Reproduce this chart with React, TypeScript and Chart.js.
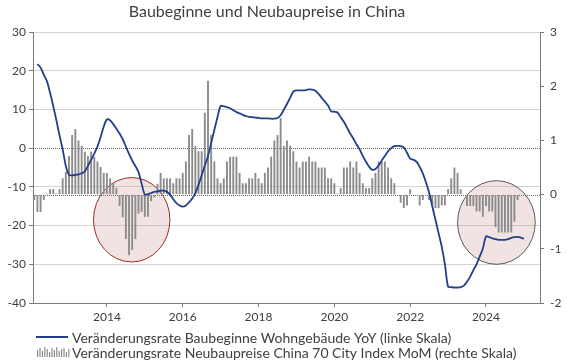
import React, { useEffect, useRef } from "react";
import { Chart, registerables } from "chart.js";

Chart.register(...registerables);

// ---------- data ----------
const START_YEAR = 2012; // month index 0 = Jan 2012
const TITLE = "Baubeginne und Neubaupreise in China";
const LINE_LABEL = "Veränderungsrate Baubeginne Wohngebäude YoY (linke Skala)";
const BAR_LABEL = "Veränderungsrate Neubaupreise China 70 City Index MoM (rechte Skala)";
const yearTicks = [2014, 2016, 2018, 2020, 2022, 2024];

// Housing starts YoY (%), monthly, first value = Mar 2012
const lineStartMonth = 2;
const lineValues = [
  21.7, 20.8, 19.0, 17.3, 14.3, 10.9, 7.2, 3.3, -0.4, -4.6, -6.9,
  -7.0, -6.9, -6.8, -6.5, -6.0, -4.6, -3.0, -1.4, 0.4, 2.8, 5.6, 7.4,
  7.2, 6.2, 5.0, 3.8, 2.3, 0.4, -1.5, -3.2, -4.6, -6.2, -9.2, -12.0,
  -11.9, -11.6, -11.3, -11.2, -11.0, -11.0, -11.3, -12.0, -13.2, -14.2, -14.8, -15.1,
  -14.8, -14.0, -13.0, -11.6, -9.5, -7.0, -4.5, -2.0, 1.3, 4.7, 8.0, 10.9,
  10.8, 10.6, 10.3, 9.8, 9.3, 9.0, 8.6, 8.3, 8.1, 8.0, 7.9, 7.8,
  7.7, 7.7, 7.7, 7.6, 7.6, 7.8, 8.5, 9.9, 11.4, 13.0, 14.6, 14.9,
  14.9, 14.9, 15.0, 15.2, 15.1, 14.8, 14.0, 13.0, 12.0, 11.0, 9.5, 9.4,
  9.2, 8.0, 6.8, 5.3, 3.8, 2.5, 1.0, -0.3, -2.0, -3.5, -4.8, -5.6,
  -5.4, -4.5, -3.2, -2.0, -0.8, 0.0, 0.5, 0.6, 0.5, 0.2, -1.2, -2.7,
  -3.0, -3.5, -4.8, -6.5, -8.8, -11.5, -15.0, -18.5, -22.0, -25.5, -30.0, -35.8,
  -35.9, -36.0, -36.0, -35.9, -35.5, -34.5, -33.2, -31.5, -30.0, -28.0, -26.0, -22.8,
  -23.0, -23.3, -23.5, -23.7, -23.7, -23.7, -23.5, -23.2, -23.0, -22.9, -23.1, -23.4,
];

// New home prices 70 City Index MoM (%), monthly, first value = Feb 2012
const barStartMonth = 1;
const barValues = [
  -0.1, -0.32, -0.32, -0.1, 0.02, 0.1, 0.1, 0.02, 0.1, 0.3, 0.42,
  0.71, 1.1, 1.21, 1.0, 0.9, 0.79, 0.71, 0.79, 0.7, 0.61, 0.51, 0.4,
  0.4, 0.3, 0.21, 0.12, -0.21, -0.42, -0.82, -1.12, -1.02, -0.82, -0.35, -0.32,
  -0.41, -0.41, -0.12, -0.05, 0.2, 0.4, 0.3, 0.3, 0.3, 0.21, 0.3, 0.3,
  0.4, 0.61, 1.1, 1.21, 0.9, 0.8, 0.8, 1.51, 2.1, 1.1, 0.61, 0.3,
  0.21, 0.3, 0.61, 0.7, 0.7, 0.7, 0.4, 0.21, 0.21, 0.3, 0.3, 0.4,
  0.3, 0.21, 0.4, 0.5, 0.7, 1.0, 1.1, 1.41, 0.9, 1.0, 0.9, 0.8,
  0.61, 0.5, 0.61, 0.61, 0.7, 0.61, 0.61, 0.5, 0.5, 0.5, 0.3, 0.3,
  0.21, 0.02, 0.12, 0.5, 0.5, 0.61, 0.5, 0.61, 0.4, 0.21, 0.12, 0.12,
  0.3, 0.4, 0.61, 0.61, 0.61, 0.5, 0.3, 0.21, 0.0, -0.15, -0.25, -0.2,
  0.1, 0.0, 0.0, -0.2, -0.1, 0.0, -0.1, -0.2, -0.25, -0.25, -0.2, -0.2,
  0.1, 0.3, 0.5, 0.4, 0.1, 0.0, -0.21, -0.21, -0.21, -0.31, -0.31, -0.41,
  -0.21, -0.31, -0.31, -0.6, -0.7, -0.7, -0.7, -0.7, -0.7, -0.5, -0.1,
];

// highlighted periods (centre month, centre value on left scale, radii)
const highlightMonths = [31.85, 147.3];
const highlightValues = [-18.5, -19.2];
const highlightMonthRadii = [12.1, 12.3];
const highlightValueRadii = [10.9, 10.8];
const highlightBorders = ["#9c2a2a", "#595959"];

// ---------- style ----------
const FONT = "Lato, 'Open Sans', sans-serif";
const NAVY = "#22408a";
const BAR = "#8c8c8c";
const AXIS = "#7a7a7a";
const TEXT = "#404040";
const X_MIN = 0.6;
const X_MAX = 161.1;
const legendIconHeights = [7, 9, 6, 10, 8, 5, 9, 7, 10, 6, 8, 9, 5, 8];

export default function App() {
  const ref = useRef<HTMLCanvasElement>(null);

  useEffect(() => {
    document.body.style.margin = "0";
    const canvas = ref.current!;
    const lineData = lineValues.map((v, i) => ({ x: lineStartMonth + i, y: v }));
    const barData = barValues.map((v, i) => ({ x: barStartMonth + i, y: v }));

    const guides = {
      id: "guides",
      beforeDatasetsDraw(chart: any) {
        const { ctx, chartArea, scales } = chart;
        ctx.save();
        ctx.lineWidth = 1;
        ctx.strokeStyle = "#666";
        ctx.setLineDash([1, 1]);
        [scales.y.getPixelForValue(0), scales.y1.getPixelForValue(0)].forEach((p: number) => {
          const yy = Math.round(p) + 0.5;
          ctx.beginPath();
          ctx.moveTo(chartArea.left, yy);
          ctx.lineTo(chartArea.right, yy);
          ctx.stroke();
        });
        ctx.setLineDash([]);
        highlightMonths.forEach((m, i) => {
          const cx = scales.x.getPixelForValue(m);
          const cy = scales.y.getPixelForValue(highlightValues[i]);
          const rx = Math.abs(scales.x.getPixelForValue(m + highlightMonthRadii[i]) - cx);
          const ry = Math.abs(scales.y.getPixelForValue(highlightValues[i] + highlightValueRadii[i]) - cy);
          ctx.beginPath();
          ctx.ellipse(cx, cy, rx, ry, 0, 0, Math.PI * 2);
          ctx.fillStyle = "rgba(200,140,140,0.24)";
          ctx.fill();
          ctx.strokeStyle = highlightBorders[i];
          ctx.lineWidth = 1;
          ctx.stroke();
        });
        ctx.restore();
      },
    };

    const textPlugin = {
      id: "texts",
      afterDraw(chart: any) {
        const { ctx, chartArea } = chart;
        ctx.save();
        // title
        ctx.fillStyle = TEXT;
        ctx.font = `16px ${FONT}`;
        ctx.textAlign = "center";
        ctx.textBaseline = "middle";
        ctx.fillText(TITLE, chartArea.left + 234, 12);
        // legend
        const x0 = chartArea.left + 3;
        const y1 = chartArea.bottom + 34;
        const y2 = y1 + 15;
        ctx.strokeStyle = NAVY;
        ctx.lineWidth = 2;
        ctx.beginPath();
        ctx.moveTo(x0, y1);
        ctx.lineTo(x0 + 32, y1);
        ctx.stroke();
        ctx.fillStyle = BAR;
        legendIconHeights.forEach((h, i) => {
          ctx.fillRect(x0 + 1 + i * 2.4, y2 + 5 - h, 1.2, h);
        });
        ctx.fillStyle = TEXT;
        ctx.font = `14px ${FONT}`;
        ctx.textAlign = "left";
        ctx.fillText(LINE_LABEL, x0 + 36, y1 + 1);
        ctx.fillText(BAR_LABEL, x0 + 36, y2 + 1);
        ctx.restore();
      },
    };

    const tickFont = { family: FONT, size: 12 };

    const chart = new Chart(canvas, {
      type: "bar",
      data: {
        datasets: [
          {
            type: "line",
            label: LINE_LABEL,
            data: lineData,
            yAxisID: "y",
            borderColor: NAVY,
            borderWidth: 1.8,
            pointRadius: 0,
            tension: 0.3,
            order: 0,
          } as any,
          {
            type: "bar",
            label: BAR_LABEL,
            data: barData,
            yAxisID: "y1",
            backgroundColor: BAR,
            barPercentage: 0.6,
            categoryPercentage: 1,
            order: 1,
          } as any,
        ],
      },
      options: {
        responsive: false,
        animation: false,
        layout: { padding: { left: 0, right: 0, top: 32, bottom: 39 } },
        plugins: {
          legend: { display: false },
          tooltip: { enabled: false },
          title: { display: false },
        },
        scales: {
          x: {
            type: "linear",
            min: X_MIN,
            max: X_MAX,
            offset: false,
            afterBuildTicks: (s: any) => {
              s.ticks = yearTicks.map((y) => ({ value: (y - START_YEAR) * 12 }));
            },
            afterFit: (s: any) => {
              s.height = 20;
            },
            ticks: {
              autoSkip: false,
              maxRotation: 0,
              padding: 3,
              color: TEXT,
              font: tickFont,
              callback: (v: any) => String(START_YEAR + Number(v) / 12),
            },
            grid: { drawOnChartArea: false, offset: false, tickLength: 4, tickColor: AXIS },
            border: { color: AXIS, width: 1 },
          },
          y: {
            position: "left",
            min: -40,
            max: 30,
            ticks: { stepSize: 10, padding: 3, color: TEXT, font: tickFont },
            grid: {
              color: (c: any) => (c.tick && c.tick.value === 0 ? "rgba(0,0,0,0)" : "#d4d4d4"),
              tickLength: 4,
              tickColor: AXIS,
            },
            border: { color: AXIS, width: 1 },
            afterFit: (s: any) => {
              s.width = 33;
            },
          },
          y1: {
            position: "right",
            min: -2,
            max: 3,
            ticks: { stepSize: 1, padding: 6, color: TEXT, font: tickFont },
            grid: { drawOnChartArea: false, tickLength: 4, tickColor: AXIS },
            border: { color: AXIS, width: 1 },
            afterFit: (s: any) => {
              s.width = 27;
            },
          },
        },
      } as any,
      plugins: [guides, textPlugin],
    });

    return () => chart.destroy();
  }, []);

  return (
    <div style={{ width: 567, height: 362 }}>
      <canvas ref={ref} width={567} height={362} style={{ display: "block" }} />
    </div>
  );
}
